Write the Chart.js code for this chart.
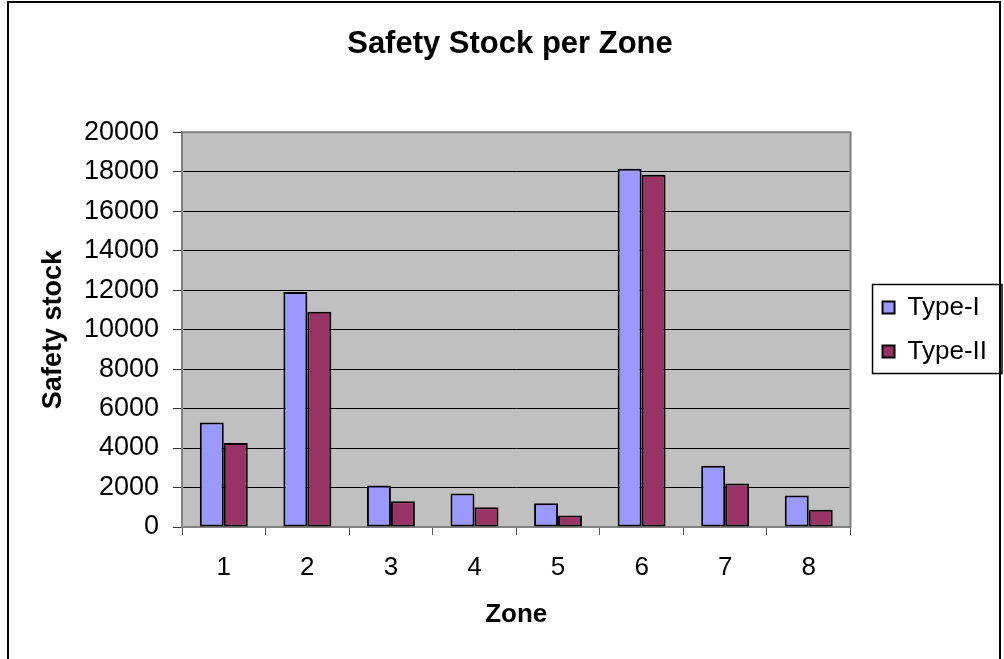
<!DOCTYPE html>
<html>
<head>
<meta charset="utf-8">
<title>Safety Stock per Zone</title>
<script src="https://cdn.jsdelivr.net/npm/chart.js@4.4.1/dist/chart.umd.min.js"></script>
<style>
  html, body { margin: 0; padding: 0; background: #fff; }
  #wrap { width: 1004px; height: 659px; }
</style>
</head>
<body>
<div id="wrap"><canvas id="stockChart" width="1004" height="659"></canvas></div>
<script>
// safety stock per zone, two stock types
const zones = ['1', '2', '3', '4', '5', '6', '7', '8'];
const typeI = [5300, 11900, 2100, 1700, 1200, 18150, 3100, 1600];
const typeII = [4250, 10900, 1300, 1000, 580, 17850, 2200, 880];
const seriesNames = ['Type-I', 'Type-II'];
const seriesColors = ['#9999FF', '#993366'];

Chart.defaults.font.family = '"Liberation Sans", Arial, sans-serif';
Chart.defaults.color = '#000';

// grey plot area, its frame, the outer frame and the box round the legend
const framePlugin = {
  id: 'frames',
  beforeDraw(chart) {
    const { ctx, chartArea: a } = chart;
    ctx.save();
    ctx.fillStyle = '#C0C0C0';
    ctx.fillRect(a.left, a.top, a.right - a.left, a.bottom - a.top);
    ctx.restore();
  },
  beforeDatasetsDraw(chart) {
    const { ctx, chartArea: a } = chart;
    ctx.save();
    ctx.strokeStyle = '#808080';
    ctx.lineWidth = 2;
    ctx.strokeRect(a.left, a.top, a.right - a.left, a.bottom - a.top);
    ctx.restore();
  },
  afterDraw(chart) {
    const { ctx } = chart;
    ctx.save();
    ctx.strokeStyle = '#000';
    ctx.lineWidth = 2;
    ctx.strokeRect(8, 2, 992, 720);

    const boxes = chart.legend.legendHitBoxes;
    if (boxes && boxes.length) {
      const first = boxes[0];
      const last = boxes[boxes.length - 1];
      ctx.lineWidth = 1.5;
      ctx.strokeStyle = '#000';
      ctx.strokeRect(first.left - 10, first.top - 10,
        1002 - (first.left - 10), last.top + last.height - first.top + 19);
    }
    ctx.restore();
  }
};

new Chart(document.getElementById('stockChart'), {
  type: 'bar',
  data: {
    labels: zones,
    datasets: [typeI, typeII].map((values, i) => ({
      label: seriesNames[i],
      data: values,
      backgroundColor: seriesColors[i],
      borderColor: '#000',
      borderWidth: 2,
      borderSkipped: false,
      categoryPercentage: 0.574,
      barPercentage: 1.0
    }))
  },
  options: {
    responsive: false,
    animation: false,
    layout: { padding: { left: 23, right: 7, top: 0, bottom: 0 } },
    plugins: {
      title: {
        display: true,
        text: 'Safety Stock per Zone',
        font: { size: 31, weight: 'bold' },
        padding: { top: 26, bottom: 69 }
      },
      legend: {
        position: 'right',
        labels: {
          boxWidth: 12,
          boxHeight: 12,
          padding: 18,
          font: { size: 26 }
        }
      },
      tooltip: { enabled: false }
    },
    scales: {
      x: {
        grid: {
          drawOnChartArea: false,
          tickLength: 8,
          tickColor: '#555'
        },
        border: { color: '#808080', width: 2 },
        ticks: { font: { size: 26 }, padding: 17 },
        title: {
          display: true,
          text: 'Zone',
          font: { size: 26, weight: 'bold' },
          padding: { top: 0, bottom: 29 }
        },
        afterFit(scale) { scale.height = 132; }
      },
      y: {
        min: 0,
        max: 20000,
        grid: {
          color: '#000',
          lineWidth: 1,
          tickLength: 9,
          tickColor: '#333'
        },
        border: { color: '#808080', width: 2 },
        ticks: {
          stepSize: 2000,
          font: { size: 27 },
          padding: 14,
          callback: value => String(value)
        },
        title: {
          display: true,
          text: 'Safety stock',
          font: { size: 27, weight: 'bold' },
          padding: { top: 14, bottom: 0 }
        },
        afterFit(scale) { scale.width = 159; }
      },
      // empty axis that only keeps a gap between the plot and the legend
      gap: {
        type: 'linear',
        position: 'right',
        grid: { display: false },
        border: { display: false },
        ticks: { display: false },
        afterFit(scale) { scale.width = 14; }
      }
    }
  },
  plugins: [framePlugin]
});
</script>
</body>
</html>
